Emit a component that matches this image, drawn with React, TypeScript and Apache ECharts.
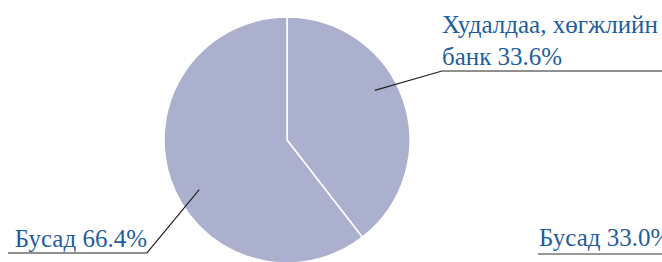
import React, { useEffect, useRef } from 'react';
import * as echarts from 'echarts';

// Slice categories (line break inside the first label as in the reference)
const categories = ['Худалдаа, хөгжлийн\nбанк', 'Бусад'];
// Angular shares of the slices as drawn in the picture
const sliceShares = [39.5, 60.5];
// Percentages printed in the labels
const labelValues = [33.6, 66.4];
// Clipped label of a neighbouring chart at the right edge
const sideLabel = 'Бусад 33.0%';

const TEXT_COLOR = '#1f5d9c';
const FONT = "'Liberation Serif', 'DejaVu Serif', serif";
const FONT_SIZE = 25;

export default function App() {
  const ref = useRef<HTMLDivElement>(null);
  useEffect(() => {
    const el = ref.current!;
    const chart = echarts.init(el, null, { renderer: 'svg' });
    const cx = 287;
    const cy = 140;
    const r = 123;
    const W = 662;
    const anchors = [
      { x: 442, y: 71, end: W, align: 'left' },
      { x: 147, y: 253, end: 8, align: 'right' },
    ];
    chart.setOption({
      animation: false,
      series: [
        {
          type: 'pie',
          z: 1,
          center: [cx, cy],
          radius: r,
          startAngle: 90,
          clockwise: true,
          silent: true,
          data: categories.map((name, i) => ({ name, value: sliceShares[i] })),
          itemStyle: { color: '#abb0ce', borderColor: '#ffffff', borderWidth: 1.5 },
          label: { show: false },
          labelLine: { show: false },
          emphasis: { disabled: true },
        },
        {
          type: 'pie',
          z: 3,
          center: [cx, cy],
          radius: r,
          startAngle: 90,
          clockwise: true,
          silent: true,
          data: categories.map((name, i) => ({ name, value: labelValues[i] })),
          itemStyle: { color: 'rgba(0,0,0,0)', borderWidth: 0 },
          label: {
            show: true,
            position: 'outside',
            overflow: 'none',
            formatter: (p: any) => `${p.name} ${labelValues[p.dataIndex].toFixed(1)}%`,
            fontFamily: FONT,
            fontSize: FONT_SIZE,
            lineHeight: 32,
            color: TEXT_COLOR,
          },
          labelLine: {
            show: true,
            smooth: false,
            lineStyle: { color: '#222222', width: 1.2 },
          },
          labelLayout: (params: any) => {
            const a = anchors[params.dataIndex];
            const pts = params.labelLinePoints;
            let p0 = [cx, cy];
            if (pts && pts[0]) {
              const f = 0.82;
              p0 = [cx + (pts[0][0] - cx) * f, cy + (pts[0][1] - cy) * f];
            }
            return {
              x: a.x,
              y: a.y + 1,
              align: a.align,
              verticalAlign: 'bottom',
              labelLinePoints: [p0, [a.x, a.y], [a.end, a.y]],
            };
          },
          emphasis: { disabled: true },
        },
      ],
      graphic: [
        {
          type: 'text',
          x: 539,
          y: 250,
          style: {
            text: sideLabel,
            fontFamily: FONT,
            fontSize: FONT_SIZE,
            fill: TEXT_COLOR,
            verticalAlign: 'bottom',
          },
        },
        {
          type: 'line',
          shape: { x1: 538, y1: 254, x2: W, y2: 254 },
          style: { stroke: '#333333', lineWidth: 1.2 },
        },
      ],
    });
    return () => chart.dispose();
  }, []);
  return (
    <div
      ref={ref}
      style={{ position: 'fixed', left: 0, top: 0, width: 662, height: 262, background: '#fff' }}
    />
  );
}
